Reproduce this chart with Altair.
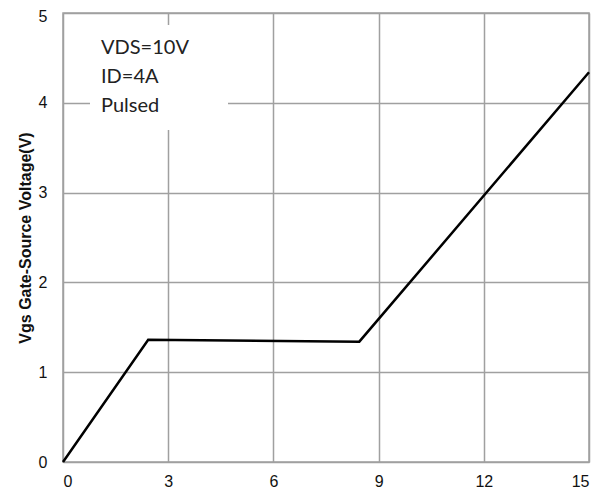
import altair as alt
import pandas as pd

# Gate charge curve
qg = [0.0, 2.43, 8.45, 15.0]
vgs = [0.0, 1.36, 1.34, 4.34]
x_ticks = [0, 3, 6, 9, 12, 15]
y_ticks = [0, 1, 2, 3, 4, 5]
note_lines = ["VDS=10V", "ID=4A", "Pulsed"]

df = pd.DataFrame({"qg": qg, "vgs": vgs})
notes = pd.DataFrame({"txt": note_lines, "i": list(range(len(note_lines)))})

W, H = 526, 449
GRID = "#a0a0a0"

x_enc = alt.X("qg:Q", scale=alt.Scale(domain=[0, 15], nice=False, zero=False),
              axis=alt.Axis(values=x_ticks, title=None, grid=True, gridColor=GRID, gridWidth=1.5,
                            domain=False, ticks=False, labelPadding=11, labelFontSize=16,
                            labelFont="Liberation Sans", labelColor="#111"))
y_enc = alt.Y("vgs:Q", scale=alt.Scale(domain=[0, 5], nice=False),
              axis=alt.Axis(values=y_ticks, title="Vgs Gate-Source Voltage(V)", grid=True,
                            gridColor=GRID, gridWidth=1.5, domain=False, ticks=False,
                            labelPadding=16, labelFontSize=16, labelFont="Liberation Sans",
                            labelOffset={"condition": {"test": "datum.value == 5", "value": 3},
                                         "value": 0},
                            labelColor="#111", titleFont="Liberation Sans", titleFontSize=16,
                            titleFontWeight="bold", titleColor="#111", titleX=-38, titleY=H / 2,
                            titleAngle=270, titleBaseline="middle", titleAlign="center"))

line = alt.Chart(df).mark_line(color="black", strokeWidth=2.5).encode(x=x_enc, y=y_enc)

box = alt.Chart(notes).mark_rect(color="white").encode(
    x=alt.value(27), x2=alt.value(165), y=alt.value(12), y2=alt.value(117))

text = alt.Chart(notes).mark_text(align="left", baseline="middle", font="Lato", fontSize=20,
                                  color="#222").encode(
    x=alt.value(38),
    y=alt.Y("i:Q", scale=alt.Scale(domain=[0, 2], range=[35, 93]), axis=None),
    text="txt:N")

chart = alt.layer(line, box, text).resolve_scale(y="independent").properties(
    width=W, height=H,
    autosize=alt.AutoSizeParams(type="none"),
    padding={"left": 55, "top": 5, "right": 10, "bottom": 30},
).configure_view(stroke=GRID, strokeWidth=1.5)

chart.save("out.html", embed_options={"renderer": "svg", "actions": False})
